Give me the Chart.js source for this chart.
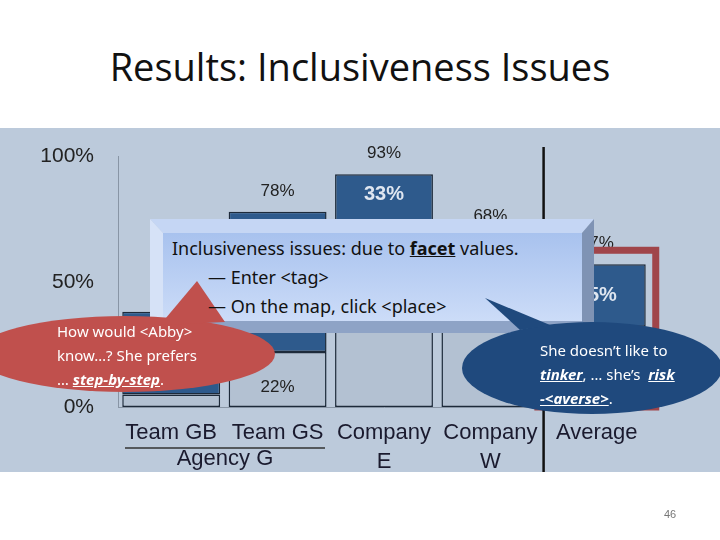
<!DOCTYPE html>
<html><head><meta charset="utf-8">
<script src="https://cdn.jsdelivr.net/npm/chart.js@4/dist/chart.umd.min.js"></script>
<style>
body{margin:0;width:720px;height:540px;background:#fff;position:relative;overflow:hidden;font-family:"Liberation Sans",Arial,sans-serif}
#title{position:absolute;left:0;width:720px;top:40px;text-align:center;font-family:"Open Sans",sans-serif;font-size:38px;color:#111}
#wrap{position:absolute;left:0;top:128px;width:720px;height:344px;background:#bccadb}
.t{position:absolute;white-space:nowrap}
</style></head><body>
<div id="title">Results: Inclusiveness Issues</div>
<div id="wrap"><canvas id="c" width="720" height="344"></canvas></div>
<svg style="position:absolute;left:0;top:0" width="720" height="540">
<defs><linearGradient id="g" x1="0" y1="0" x2="0" y2="1"><stop offset="0" stop-color="#a8c2ee"/><stop offset="1" stop-color="#ccdcf8"/></linearGradient></defs>
<polygon points="150,219 594,219 582,233 163,233" fill="#c5d6f4"/>
<polygon points="150,219 163,233 163,321 150,333" fill="#d6e2f7"/>
<polygon points="594,219 582,233 582,321 594,333" fill="#7f93b4"/>
<polygon points="150,333 163,321 582,321 594,333" fill="#8ea3c6"/>
<rect x="163" y="233" width="419" height="88" fill="url(#g)"/>
<ellipse cx="125" cy="354" rx="150" ry="38" fill="#c0504d"/>
<polygon points="160,325 197,281 225,322" fill="#c0504d"/>
<ellipse cx="592" cy="368" rx="130" ry="46" fill="#1f497d"/>
<polygon points="485,298 520,330 550,325" fill="#1f497d"/>
</svg>
<div class="t" style="left:172px;top:236px;font-family:'Noto Sans';font-size:18px;color:#111">Inclusiveness issues: due to <b><u>facet</u></b> values.</div>
<div class="t" style="left:208px;top:265px;font-family:'Noto Sans';font-size:18px;color:#111">— Enter &lt;tag&gt;</div>
<div class="t" style="left:208px;top:294px;font-family:'Noto Sans';font-size:18px;color:#111">— On the map, click &lt;place&gt;</div>
<div class="t" style="left:57px;top:319px;font-family:'Noto Sans';font-size:15px;color:#fff;line-height:24px">How would &lt;Abby&gt;<br>know…? She prefers<br>… <b><i><u>step-by-step</u></i></b>.</div>
<div class="t" style="left:540px;top:338px;font-family:'Noto Sans';font-size:15px;color:#fff;line-height:24px">She doesn’t like to<br><b><i><u>tinker</u></i></b>, … she’s&nbsp; <b><i><u>risk</u></i></b><br><b><i><u>-&lt;averse&gt;</u></i></b>.</div>
<div class="t" style="left:664px;top:508px;font-size:11px;color:#777">46</div>
<script>
const categories=[["Team GB"],["Team GS"],["Company","E"],["Company","W"],["Average"]];
const grayValues=[5,22,60,35,32];
const blueValues=[33,56,33,33,25];
const totalLabels=["38%","78%","93%","68%","57%"];
const yTicks=[0,50,100];
const labelPlugin={id:"lbl",afterDatasetsDraw(ch){
 const c=ch.ctx,x=ch.scales.x,y=ch.scales.y;
 c.save();c.textAlign="center";
 const m1=ch.getDatasetMeta(0),m2=ch.getDatasetMeta(1);
 c.font="17px 'Liberation Sans'";c.fillStyle="#222";c.textBaseline="bottom";
 m2.data.forEach((b,i)=>c.fillText(totalLabels[i],b.x,b.y-12));
 c.textBaseline="middle";
 m1.data.forEach((b,i)=>{if(i==1||i==3)c.fillText(grayValues[i]+"%",b.x,(b.y+b.base)/2+(i==1?8:0));});
 c.font="bold 20px 'Liberation Sans'";c.fillStyle="#dfe6f0";
 m2.data.forEach((b,i)=>c.fillText(blueValues[i]+"%",b.x,(i==2?b.y+20:(b.y+b.base)/2)));
 const b=m2.data[4];const w=b.width;
 c.strokeStyle="#a0454a";c.lineWidth=7;
 c.strokeRect(b.x-w/2-10,b.y-14,w+20,y.getPixelForValue(0)-b.y+14);
 const sx=(x.getPixelForValue(3)+x.getPixelForValue(4))/2;
 c.strokeStyle="#111";c.lineWidth=2.5;c.beginPath();c.moveTo(sx,19);c.lineTo(sx,344);c.stroke();
 c.strokeStyle="#333";c.lineWidth=1.5;c.beginPath();c.moveTo(125,320);c.lineTo(325,320);c.stroke();
 c.font="22px 'Liberation Sans'";c.fillStyle="#1a1a2e";c.fillText("Agency G",225,331);
 c.restore();}};
new Chart(document.getElementById("c"),{type:"bar",
 data:{labels:categories,datasets:[
  {data:grayValues,backgroundColor:"#b3c1d2",borderColor:"#1d2a3a",borderWidth:1.5,borderSkipped:false,categoryPercentage:1,barPercentage:0.92},
  {data:blueValues,backgroundColor:"#2e5a8c",borderColor:"#1d2a3a",borderWidth:1.5,borderSkipped:false,categoryPercentage:1,barPercentage:0.92}]},
 options:{responsive:false,animation:false,events:[],
  layout:{padding:{top:19,right:70,bottom:0,left:0}},
  plugins:{legend:{display:false},tooltip:{enabled:false}},
  scales:{
   x:{stacked:true,grid:{display:false},border:{color:"#8895a5"},
      ticks:{color:"#1a1a2e",font:{size:22,family:"Liberation Sans",lineHeight:1.3},padding:4,maxRotation:0,autoSkip:false},
      afterFit(s){s.height=65;}},
   y:{stacked:true,min:0,max:100,afterBuildTicks(s){s.ticks=yTicks.map(v=>({value:v}));},
      grid:{display:false},border:{color:"#8895a5"},
      ticks:{color:"#222",font:{size:21,family:"Liberation Sans"},padding:16,callback:v=>v+"%"},
      afterFit(s){s.width=118;}}}},
 plugins:[labelPlugin]});
</script></body></html>
